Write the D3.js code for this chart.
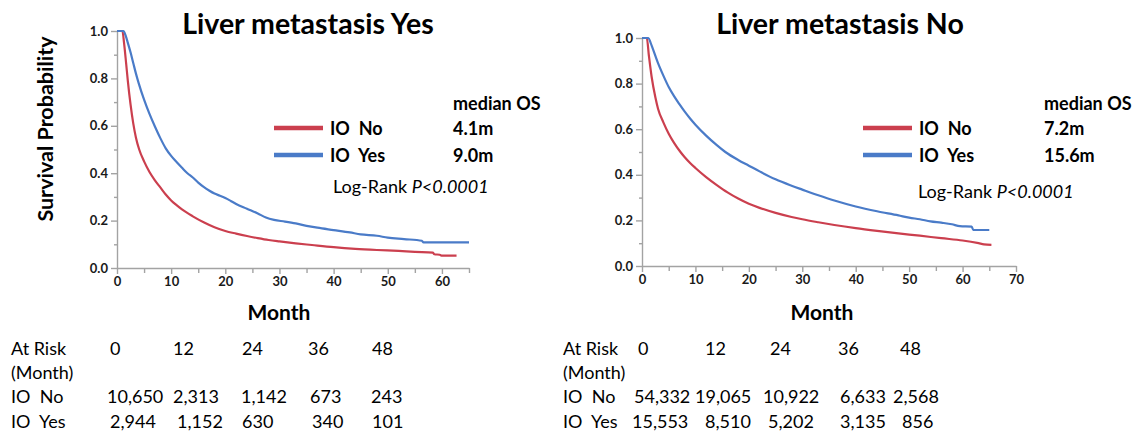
<!DOCTYPE html>
<html>
<head>
<meta charset="utf-8">
<script src="https://cdn.jsdelivr.net/npm/d3@7"></script>
<style>
  html, body { margin: 0; padding: 0; background: #fff; }
  svg { display: block; font-family: Lato, "Open Sans", sans-serif; }
  .pre { white-space: pre; }
</style>
</head>
<body>
<svg id="chart" width="1139" height="435"></svg>
<script>
// Kaplan–Meier overall survival estimates: [month, survival probability]
const liverYesIONo = [[0,1],[1.0,1],[1.3,0.95],[1.7,0.86],[2.0,0.79],[2.5,0.69],[3.0,0.61],[3.5,0.55],[4.1,0.50],[5,0.45],[6,0.405],[7,0.37],[8,0.34],[9,0.31],[10,0.285],[11,0.265],[12,0.247],[14,0.218],[16,0.193],[18,0.172],[20,0.156],[22,0.145],[24,0.135],[26,0.126],[28,0.118],[30,0.112],[33,0.104],[36,0.097],[40,0.088],[44,0.081],[48,0.076],[52,0.072],[55,0.068],[58.3,0.065],[58.6,0.058],[59.6,0.056],[59.9,0.052],[62.7,0.052]];
const liverYesIOYes = [[0,1],[1.2,1],[1.6,0.98],[2,0.95],[2.5,0.91],[3,0.865],[3.5,0.82],[4,0.78],[5,0.71],[6,0.65],[7,0.597],[8,0.548],[9,0.505],[10,0.473],[11,0.447],[12,0.423],[13,0.40],[14,0.382],[15,0.36],[16,0.342],[17,0.327],[18,0.314],[19,0.305],[20,0.295],[21,0.283],[22,0.27],[24,0.25],[26,0.23],[27.5,0.213],[29,0.203],[31,0.196],[33,0.188],[35,0.178],[37,0.17],[40,0.16],[43,0.15],[45,0.142],[48,0.136],[50,0.128],[53,0.122],[56.3,0.115],[56.6,0.108],[65,0.108]];
const liverNoIONo = [[0,1],[0.9,1],[1.3,0.92],[1.8,0.83],[2.5,0.74],[3,0.69],[4,0.63],[5,0.58],[6,0.54],[7.2,0.5],[8,0.477],[9,0.452],[10,0.43],[12,0.39],[14,0.355],[16,0.323],[18,0.296],[20,0.273],[22,0.255],[25,0.233],[28,0.215],[30,0.205],[33,0.192],[36,0.18],[40,0.166],[44,0.154],[48,0.143],[52,0.133],[56,0.122],[60,0.112],[63,0.1],[64,0.095],[65.4,0.093]];
const liverNoIOYes = [[0,1],[1.2,1],[1.6,0.98],[2,0.955],[3,0.89],[4,0.835],[5,0.785],[6,0.745],[7,0.71],[8,0.677],[9,0.647],[10,0.62],[12,0.572],[14,0.53],[15.6,0.5],[18,0.465],[20,0.44],[22,0.415],[25,0.38],[28,0.352],[30,0.335],[33,0.31],[36,0.287],[40,0.261],[44,0.24],[48,0.222],[50,0.212],[52,0.205],[54,0.196],[56,0.19],[58,0.183],[59.5,0.175],[61.7,0.173],[62,0.158],[65,0.158]];

// Legend entries and median OS
const groupLabels = ["IO  No", "IO  Yes"];
const mediansLiverYes = ["4.1m", "9.0m"];
const mediansLiverNo = ["7.2m", "15.6m"];

// Numbers at risk
const riskMonths = [0, 12, 24, 36, 48];
const riskLiverYesIONo = [10650, 2313, 1142, 673, 243];
const riskLiverYesIOYes = [2944, 1152, 630, 340, 101];
const riskLiverNoIONo = [54332, 19065, 10922, 6633, 2568];
const riskLiverNoIOYes = [15553, 8510, 5202, 3135, 856];

// Axis ticks
const yMajor = [0, 0.2, 0.4, 0.6, 0.8, 1.0];
const yMinor = [0.1, 0.3, 0.5, 0.7, 0.9];

const RED = "#cb3f4e";
const BLUE = "#4a7bc8";
const AXIS = "#a3a3a3";
const INK = "#1a1a1a";

const svg = d3.select("#chart");
const fmt = d3.format(",");

function drawPanel(p) {
  const x = d3.scaleLinear().domain([0, p.xMax]).range([p.x0, p.x1]);
  const y = d3.scaleLinear().domain([0, 1]).range([p.y0, p.y1]);
  const g = svg.append("g");

  // minor ticks
  g.append("g").attr("transform", `translate(${p.x0},0)`)
    .call(d3.axisLeft(y).tickValues(yMinor).tickSize(3).tickFormat(""))
    .call(a => a.select(".domain").remove());
  g.append("g").attr("transform", `translate(0,${p.y0})`)
    .call(d3.axisBottom(x).tickValues(p.xMinor).tickSize(5).tickFormat(""))
    .call(a => a.select(".domain").remove());

  // major axes
  g.append("g").attr("transform", `translate(${p.x0},0)`)
    .call(d3.axisLeft(y).tickValues(yMajor).tickSize(6).tickSizeOuter(0).tickFormat(d3.format(".1f")));
  g.append("g").attr("transform", `translate(0,${p.y0})`)
    .call(d3.axisBottom(x).tickValues(p.xMajor).tickSize(6).tickSizeOuter(0).tickFormat(d3.format("d")));

  g.selectAll(".domain, .tick line").attr("stroke", AXIS).attr("stroke-width", 1.4);
  g.selectAll(".tick text").attr("fill", INK).attr("font-size", 13).attr("font-weight", 700)
    .attr("font-family", "Lato, sans-serif");

  // survival curves
  const line = d3.line().x(d => x(d[0])).y(d => y(d[1])).curve(d3.curveMonotoneX);
  g.append("path").datum(p.seriesNo).attr("d", line)
    .attr("fill", "none").attr("stroke", RED).attr("stroke-width", 2.2);
  g.append("path").datum(p.seriesYes).attr("d", line)
    .attr("fill", "none").attr("stroke", BLUE).attr("stroke-width", 2.2);

  // title
  g.append("text").attr("x", p.titleX).attr("y", 34).attr("text-anchor", "middle")
    .attr("font-size", 28.5).attr("font-weight", 700).attr("fill", "#000").text(p.title);

  // legend
  const colors = [RED, BLUE];
  const rowsY = [128, 155];
  groupLabels.forEach((lab, i) => {
    g.append("line").attr("x1", p.legX).attr("x2", p.legX + 49)
      .attr("y1", rowsY[i]).attr("y2", rowsY[i])
      .attr("stroke", colors[i]).attr("stroke-width", 4.5);
    g.append("text").attr("class", "pre").attr("x", p.legX + 56).attr("y", rowsY[i] + 6.5)
      .attr("font-size", 18).attr("font-weight", 700).attr("fill", "#000").text(lab);
    g.append("text").attr("x", p.medX).attr("y", rowsY[i] + 6.5)
      .attr("font-size", 18).attr("font-weight", 700).attr("fill", "#000").text(p.medians[i]);
  });
  g.append("text").attr("x", p.medX).attr("y", 110)
    .attr("font-size", 18).attr("font-weight", 700).attr("fill", "#000").text("median OS");
  const lr = g.append("text").attr("x", p.logX).attr("y", p.logY)
    .attr("font-size", 18).attr("fill", "#000");
  lr.append("tspan").text("Log-Rank ");
  lr.append("tspan").attr("font-style", "italic").text("P<0.0001");

  // x-axis title
  g.append("text").attr("x", p.monthX).attr("y", 320).attr("text-anchor", "middle")
    .attr("font-size", 21).attr("font-weight", 700).attr("fill", "#000").text("Month");

  // numbers at risk table
  const tbl = g.append("g").attr("font-size", 18).attr("fill", "#000");
  tbl.append("text").attr("x", p.tblX).attr("y", 355).text("At Risk");
  tbl.append("text").attr("x", p.tblX).attr("y", 379).text("(Month)");
  tbl.append("text").attr("class", "pre").attr("x", p.tblX).attr("y", 403).text(groupLabels[0]);
  tbl.append("text").attr("class", "pre").attr("x", p.tblX).attr("y", 428).text(groupLabels[1]);
  riskMonths.forEach((m, i) => {
    tbl.append("text").attr("x", p.colHead[i]).attr("y", 355).text(m);
    tbl.append("text").attr("x", p.colNo[i]).attr("y", 403).text(fmt(p.riskNo[i]));
    tbl.append("text").attr("x", p.colYes[i]).attr("y", 428).text(fmt(p.riskYes[i]));
  });
}

drawPanel({
  title: "Liver metastasis Yes", titleX: 308,
  xMax: 65, x0: 117, x1: 469, y0: 268, y1: 31,
  xMajor: [0, 10, 20, 30, 40, 50, 60], xMinor: [5, 15, 25, 35, 45, 55, 65],
  seriesNo: liverYesIONo, seriesYes: liverYesIOYes,
  legX: 274, medX: 453, medians: mediansLiverYes, logX: 333, logY: 193,
  monthX: 279, tblX: 11,
  colHead: [110, 173, 242, 308, 372],
  colNo: [107, 173, 241, 310, 371],
  colYes: [110, 177, 242, 312, 372],
  riskNo: riskLiverYesIONo, riskYes: riskLiverYesIOYes
});

drawPanel({
  title: "Liver metastasis No", titleX: 840,
  xMax: 70, x0: 642, x1: 1016, y0: 266, y1: 38,
  xMajor: [0, 10, 20, 30, 40, 50, 60, 70], xMinor: [5, 15, 25, 35, 45, 55, 65],
  seriesNo: liverNoIONo, seriesYes: liverNoIOYes,
  legX: 863, medX: 1044, medians: mediansLiverNo, logX: 918, logY: 198,
  monthX: 822, tblX: 563,
  colHead: [638, 705, 770, 838, 900],
  colNo: [634, 695, 763, 840, 893],
  colYes: [632, 705, 768, 840, 902],
  riskNo: riskLiverNoIONo, riskYes: riskLiverNoIOYes
});

// y-axis title (left panel only)
svg.append("text")
  .attr("transform", "translate(53,129) rotate(-90)")
  .attr("text-anchor", "middle").attr("font-size", 21.5).attr("font-weight", 700)
  .attr("fill", "#000").text("Survival Probability");
</script>
</body>
</html>
